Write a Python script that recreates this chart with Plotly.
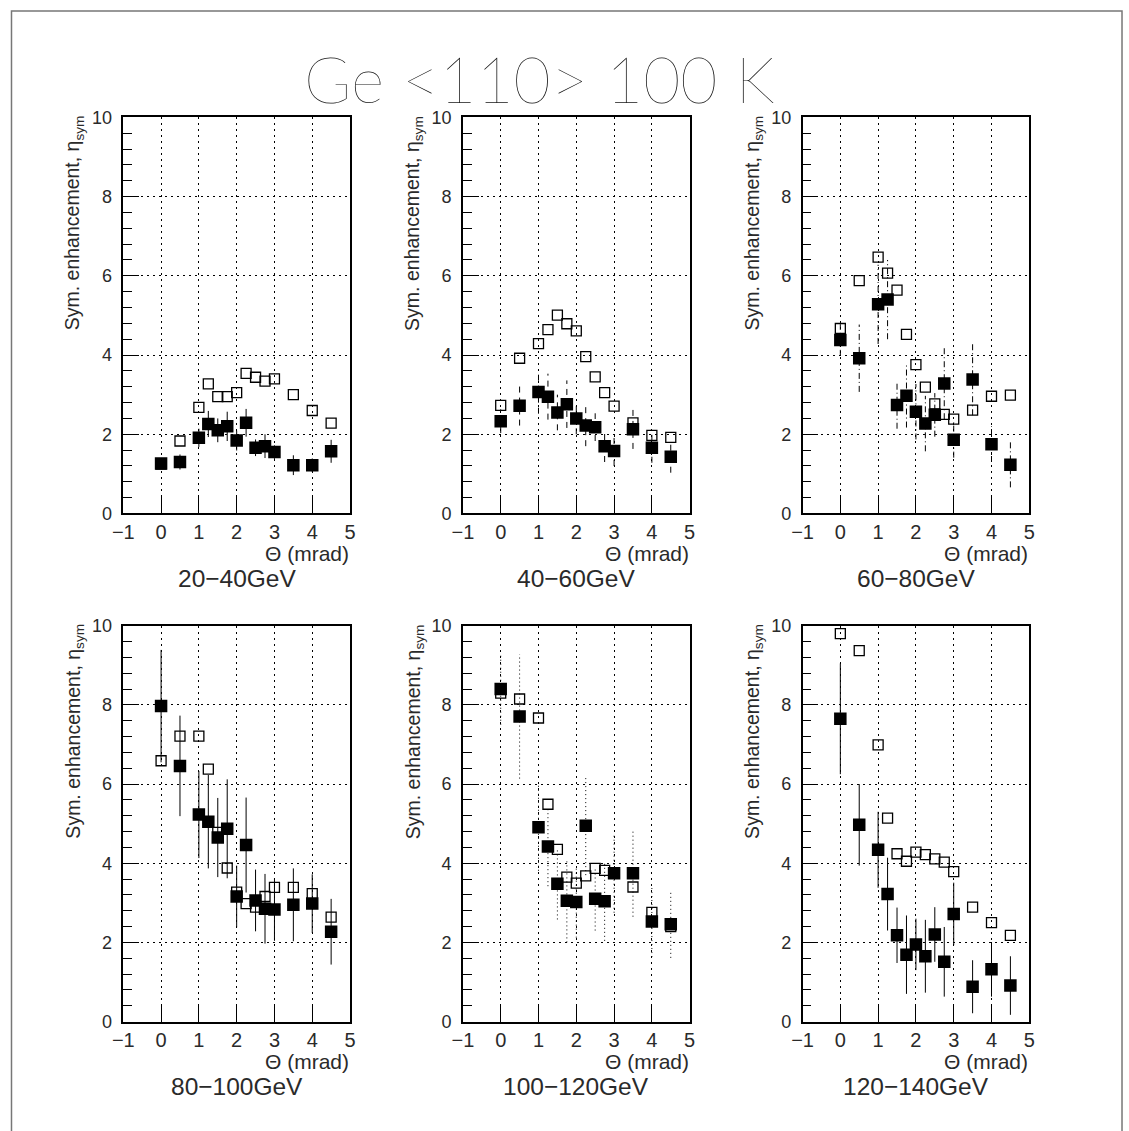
import plotly.graph_objects as go

# Beam angle to the <110> axis (mrad)
theta = [0, 0.5, 1, 1.25, 1.5, 1.75, 2, 2.25, 2.5, 2.75, 3, 3.5, 4, 4.5]

energy_bins = ["20−40GeV", "40−60GeV", "60−80GeV",
               "80−100GeV", "100−120GeV", "120−140GeV"]

# Symmetric enhancement, filled squares, with their uncertainties
filled_20_40 = [1.26, 1.30, 1.91, 2.26, 2.10, 2.20, 1.84, 2.29, 1.66, 1.70, 1.55, 1.22, 1.22, 1.57]
err_20_40 = [0.10, 0.19, 0.23, 0.33, 0.30, 0.37, 0.25, 0.35, 0.21, 0.30, 0.17, 0.25, 0.17, 0.29]
filled_40_60 = [2.33, 2.72, 3.07, 2.95, 2.55, 2.76, 2.40, 2.22, 2.18, 1.70, 1.58, 2.13, 1.66, 1.43]
err_40_60 = [0.30, 0.50, 0.55, 0.58, 0.45, 0.60, 0.40, 0.52, 0.35, 0.40, 0.38, 0.50, 0.38, 0.40]
filled_60_80 = [4.38, 3.92, 5.28, 5.40, 2.74, 2.97, 2.57, 2.27, 2.49, 3.28, 1.86, 3.38, 1.75, 1.23]
err_60_80 = [0.40, 0.85, 1.00, 1.00, 0.60, 0.80, 0.70, 0.70, 0.55, 0.90, 0.45, 0.90, 0.45, 0.57]
filled_80_100 = [7.97, 6.46, 5.23, 5.05, 4.65, 4.87, 3.16, 4.46, 3.06, 2.85, 2.83, 2.95, 2.98, 2.27]
err_80_100 = [1.42, 1.27, 1.10, 1.18, 1.00, 1.25, 0.78, 1.20, 0.78, 0.88, 0.79, 0.92, 0.74, 0.83]
filled_100_120 = [8.40, 7.71, 4.91, 4.42, 3.48, 3.05, 3.02, 4.95, 3.10, 3.04, 3.75, 3.75, 2.53, 2.46]
err_100_120 = [0.90, 1.57, 1.10, 1.00, 0.90, 1.05, 0.90, 1.25, 0.80, 1.00, 1.00, 1.10, 0.90, 0.85]
filled_120_140 = [7.65, 4.97, 4.34, 3.22, 2.18, 1.69, 1.95, 1.65, 2.20, 1.51, 2.72, 0.88, 1.32, 0.91]
err_120_140 = [1.40, 1.03, 0.96, 0.92, 0.70, 0.99, 0.65, 0.92, 0.69, 0.88, 0.79, 0.67, 0.69, 0.74]

# Symmetric enhancement, open squares
open_20_40 = [1.25, 1.83, 2.68, 3.27, 2.95, 2.95, 3.05, 3.54, 3.44, 3.34, 3.40, 3.00, 2.60, 2.28]
open_40_60 = [2.73, 3.92, 4.29, 4.64, 5.01, 4.79, 4.61, 3.96, 3.45, 3.05, 2.71, 2.29, 1.97, 1.92]
open_60_80 = [4.67, 5.88, 6.47, 6.07, 5.64, 4.52, 3.76, 3.19, 2.77, 2.50, 2.38, 2.61, 2.96, 2.99]
open_80_100 = [6.59, 7.21, 7.21, 6.38, 4.78, 3.88, 3.27, 2.98, 2.89, 3.16, 3.39, 3.39, 3.23, 2.64]
open_100_120 = [8.30, 8.15, 7.67, 5.49, 4.35, 3.65, 3.50, 3.68, 3.87, 3.82, 3.75, 3.40, 2.76, 2.40]
open_120_140 = [9.80, 9.37, 6.99, 5.14, 4.24, 4.05, 4.28, 4.22, 4.11, 4.03, 3.79, 2.89, 2.50, 2.18]

filled_sets = [filled_20_40, filled_40_60, filled_60_80,
               filled_80_100, filled_100_120, filled_120_140]
err_sets = [err_20_40, err_40_60, err_60_80,
            err_80_100, err_100_120, err_120_140]
open_sets = [open_20_40, open_40_60, open_60_80,
             open_80_100, open_100_120, open_120_140]

# Line style of the error bars in each panel
bar_dash = ["solid", "6px,5px", "6px,3px,1px,3px", "solid", "1px,3px", "solid"]

# figure size, page body margin, and page-to-view scale
W, H = 1129, 1131
BODY = 8
SX = W / (W + 2 * BODY)
SY = H / (H + 2 * BODY)
NUDGE_X = -2.0

# panel frames in view pixels
col_px = [(122.3, 349.3), (462.3, 689.3), (802.3, 1029.3)]
row_px = [(115.7, 513.3), (626.0, 1023.3)]

FONT = "Liberation Sans"
INK = "#2a2a2a"


def px_x(p):
    return ((p + NUDGE_X) / SX - BODY) / W


def px_y(p):
    return 1 - (p / SY - BODY) / H


fig = go.Figure()
annotations = []

for i in range(6):
    r, c = divmod(i, 3)
    n = i + 1
    xa = "x" if n == 1 else f"x{n}"
    ya = "y" if n == 1 else f"y{n}"
    x0, x1 = col_px[c]
    y0, y1 = row_px[r]

    # error bars as vertical segments
    ex, ey = [], []
    for t, v, e in zip(theta, filled_sets[i], err_sets[i]):
        ex += [t, t, None]
        ey += [v - e, v + e, None]
    fig.add_trace(go.Scatter(x=ex, y=ey, mode="lines", xaxis=xa, yaxis=ya,
                             line=dict(color="black", width=1, dash=bar_dash[i]),
                             hoverinfo="skip", showlegend=False))
    fig.add_trace(go.Scatter(x=theta, y=open_sets[i], mode="markers",
                             xaxis=xa, yaxis=ya, showlegend=False,
                             marker=dict(symbol="square-open", size=10, color="black",
                                         line=dict(width=1.3, color="black"))))
    fig.add_trace(go.Scatter(x=theta, y=filled_sets[i], mode="markers",
                             xaxis=xa, yaxis=ya, showlegend=False,
                             marker=dict(symbol="square", size=12.5, color="black",
                                         line=dict(width=0))))

    xkey = "xaxis" if n == 1 else f"xaxis{n}"
    ykey = "yaxis" if n == 1 else f"yaxis{n}"
    fig.layout[xkey] = dict(
        domain=[px_x(x0), px_x(x1)], anchor=ya, range=[-1, 5],
        tickmode="linear", tick0=-1, dtick=1,
        ticks="inside", ticklen=17, tickwidth=1, tickcolor="black",
        showline=True, linecolor="black", linewidth=1.5, mirror=True,
        showgrid=True, gridcolor="black", gridwidth=1, griddash="2px,4px",
        zeroline=False, tickfont=dict(family=FONT, size=20, color=INK),
        ticklabelstandoff=0,
    )
    fig.layout[ykey] = dict(
        domain=[px_y(y1), px_y(y0)], anchor=xa, range=[0, 10],
        tickmode="linear", tick0=0, dtick=2,
        ticks="inside", ticklen=16, tickwidth=1, tickcolor="black",
        minor=dict(ticks="inside", dtick=0.4, ticklen=9, tickwidth=1,
                   tickcolor="black", showgrid=False),
        showline=True, linecolor="black", linewidth=1.5, mirror=True,
        showgrid=True, gridcolor="black", gridwidth=1, griddash="2px,4px",
        zeroline=False, tickfont=dict(family=FONT, size=18, color=INK),
        ticklabelstandoff=6,
    )

    # axis titles and energy-bin label
    annotations.append(dict(
        text="Θ (mrad)", xref="paper", yref="paper",
        x=px_x(x1 + 1), y=px_y(y1 + 40), xanchor="right", yanchor="middle",
        showarrow=False, font=dict(family=FONT, size=21, color=INK)))
    annotations.append(dict(
        text=energy_bins[i], xref="paper", yref="paper",
        x=px_x((x0 + x1) / 2), y=px_y(y1 + 65), xanchor="center", yanchor="middle",
        showarrow=False, font=dict(family=FONT, size=24.5, color=INK)))
    annotations.append(dict(
        text="Sym. enhancement, η<sub>sym</sub>", xref="paper", yref="paper",
        x=px_x(x0 - 49), y=px_y(y0 - 4), xanchor="center", yanchor="top",
        textangle=-90, showarrow=False,
        font=dict(family=FONT, size=19.5, color=INK)))

annotations.append(dict(
    text="Ge <110> 100 K", xref="paper", yref="paper",
    x=px_x(538.5), y=px_y(77), xanchor="center", yanchor="middle",
    showarrow=False, font=dict(family="Lato", size=64, color="#111111", weight=200)))

fig.update_layout(
    width=W, height=H,
    margin=dict(l=0, r=0, t=0, b=0),
    paper_bgcolor="white", plot_bgcolor="white",
    annotations=annotations,
    shapes=[dict(type="rect", xref="paper", yref="paper",
                 x0=max(px_x(9), 0.5 / W), x1=1 - 1 / W, y0=-0.02, y1=1 - 1 / H,
                 line=dict(color="#777777", width=1.5))],
)

fig.write_html("out.html")
